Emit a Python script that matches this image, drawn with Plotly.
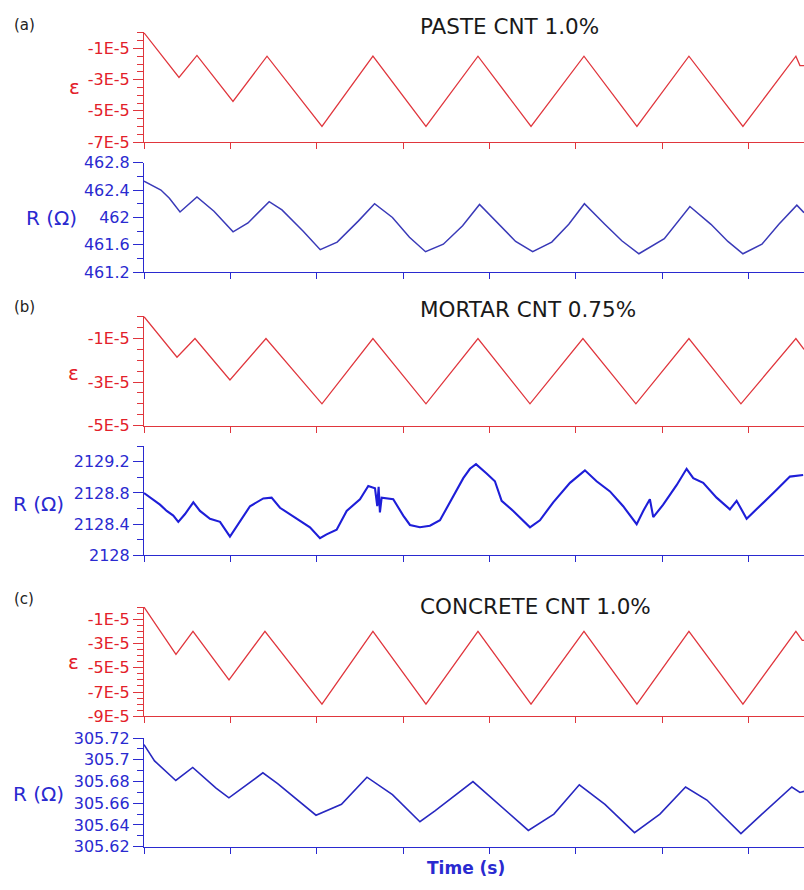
import plotly.graph_objects as go

# ---------------- data (time in s, strain, resistance in ohm) ----------------
t_eps_a = [0, 40.5, 61.3, 103, 142.4, 206, 265, 326.4, 386.6, 448, 509.3, 570.6, 630.8, 693.3, 754.6, 759.3, 764]
eps_a = [0, -2.86e-5, -1.45e-5, -4.4e-5, -1.5e-5, -6.0e-5, -1.5e-5, -6.0e-5, -1.5e-5, -6.0e-5, -1.5e-5,
         -6.0e-5, -1.5e-5, -6.0e-5, -1.5e-5, -2.1e-5, -2.1e-5]

t_r_a = [0, 7.3, 19.6, 29.4, 41.7, 61.3, 81, 103.1, 120.4, 144.9, 159.7, 184.3, 204, 223.6, 248.3, 266.9,
         287.6, 307.3, 325.9, 346.5, 368.8, 388.4, 410.5, 430.2, 449.9, 472, 491.7, 509.8, 533.4, 553.1,
         572.9, 602.3, 631.9, 656.3, 675.9, 693.3, 715.3, 734.9, 755.7, 764]
r_a = [462.53, 462.48, 462.40, 462.28, 462.08, 462.30, 462.09, 461.79, 461.92, 462.23, 462.11, 461.80,
       461.53, 461.64, 461.95, 462.20, 462.00, 461.71, 461.50, 461.61, 461.88, 462.19, 461.90, 461.65,
       461.50, 461.64, 461.90, 462.20, 461.90, 461.66, 461.47, 461.69, 462.16, 461.90, 461.65, 461.47,
       461.61, 461.90, 462.18, 462.07]

t_eps_b = [0, 38.2, 59, 99.5, 141.2, 206, 265, 326.4, 386.6, 446.8, 508.1, 569.4, 630.8, 691, 754.6, 764]
eps_b = [0, -1.86e-5, -1.0e-5, -2.9e-5, -1.0e-5, -4.0e-5, -1.0e-5, -4.0e-5, -1.0e-5, -4.0e-5, -1.0e-5,
         -4.0e-5, -1.0e-5, -4.0e-5, -1.0e-5, -1.5e-5]

t_r_b = [0, 10.4, 18.5, 26.3, 33.9, 39.7, 47.5, 57.1, 64.8, 76.4, 88, 99.5, 105.3, 111.1, 122.7, 138.1,
         147.7, 157.4, 169, 180.6, 192.1, 203.7, 211.4, 223, 234.6, 250, 259.6, 267.4, 270, 271.6, 273.1,
         275.1, 288.5, 300.1, 307.9, 319.4, 331, 342.6, 358, 369.6, 377.3, 384.3, 396.6, 406.2, 414,
         427.4, 446.8, 458.3, 473.7, 493.1, 510.4, 523.9, 539.4, 554.7, 570.3, 577.9, 585.6, 589.5, 601,
         616.5, 628.1, 635.8, 647.3, 662.8, 678.2, 686, 697.6, 713, 732.3, 747.7, 763]
r_b = [2128.80, 2128.72, 2128.65, 2128.57, 2128.51, 2128.43, 2128.53, 2128.68, 2128.57, 2128.47, 2128.43,
       2128.24, 2128.34, 2128.43, 2128.63, 2128.73, 2128.74, 2128.61, 2128.53, 2128.45, 2128.36, 2128.22,
       2128.27, 2128.33, 2128.57, 2128.72, 2128.89, 2128.86, 2128.63, 2128.88, 2128.55, 2128.74, 2128.72,
       2128.51, 2128.39, 2128.36, 2128.38, 2128.45, 2128.76, 2128.99, 2129.11, 2129.17, 2129.05, 2128.95,
       2128.70, 2128.57, 2128.36, 2128.45, 2128.68, 2128.93, 2129.09, 2128.95, 2128.82, 2128.63, 2128.40,
       2128.57, 2128.72, 2128.49, 2128.65, 2128.90, 2129.11, 2128.99, 2128.93, 2128.74, 2128.59, 2128.70,
       2128.47, 2128.63, 2128.84, 2129.01, 2129.03]

t_eps_c = [0, 37, 56.7, 98.4, 140, 206, 265, 326.4, 386.6, 448, 509.3, 570.6, 630.8, 693.3, 754.6, 762, 764]
eps_c = [0, -3.9e-5, -2.0e-5, -6.0e-5, -2.0e-5, -8.0e-5, -2.0e-5, -8.0e-5, -2.0e-5, -8.0e-5, -2.0e-5,
         -8.0e-5, -2.0e-5, -8.0e-5, -2.0e-5, -2.75e-5, -2.75e-5]

t_r_c = [0, 12.2, 36.8, 56.4, 83.4, 98.3, 137.6, 154.7, 199.1, 228.6, 258.1, 287.6, 319.4, 336.8, 380.8,
         410.5, 444.9, 474.5, 503.9, 533.6, 567.8, 597.2, 626.9, 651.6, 691, 715.3, 749.9, 759.3, 764]
r_c = [305.714, 305.699, 305.681, 305.693, 305.674, 305.665, 305.688, 305.678, 305.649, 305.659, 305.684,
       305.668, 305.643, 305.653, 305.680, 305.659, 305.635, 305.650, 305.677, 305.659, 305.633, 305.650,
       305.675, 305.663, 305.632, 305.650, 305.675, 305.670, 305.671]

panel_titles = ["PASTE CNT 1.0%", "MORTAR CNT 0.75%", "CONCRETE CNT 1.0%"]
panel_letters = ["(a)", "(b)", "(c)"]

eps_ticks_a = [-1e-5, -3e-5, -5e-5, -7e-5]
eps_text_a = ["-1E-5", "-3E-5", "-5E-5", "-7E-5"]
eps_ticks_b = [-1e-5, -3e-5, -5e-5]
eps_text_b = ["-1E-5", "-3E-5", "-5E-5"]
eps_ticks_c = [-1e-5, -3e-5, -5e-5, -7e-5, -9e-5]
eps_text_c = ["-1E-5", "-3E-5", "-5E-5", "-7E-5", "-9E-5"]
r_ticks_a = [461.2, 461.6, 462.0, 462.4, 462.8]
r_text_a = ["461.2", "461.6", "462", "462.4", "462.8"]
r_ticks_b = [2128.0, 2128.4, 2128.8, 2129.2]
r_text_b = ["2128", "2128.4", "2128.8", "2129.2"]
r_ticks_c = [305.62, 305.64, 305.66, 305.68, 305.70, 305.72]
r_text_c = ["305.62", "305.64", "305.66", "305.68", "305.7", "305.72"]

# ---------------- styling ----------------
W, H = 804, 890
RED_TXT = "#e3202a"
RED_LINE = "#e0363d"
BLUE_TXT = "#2a2ad0"
FONT = "DejaVu Sans"
X_LEFT = 144


def fy(px):
    return 1 - px / H


# (top px, bottom px) for each subplot
rows = [(24, 136), (157, 269), (314, 425.7), (446.7, 558.3), (610.9, 722.7), (745, 856)]

series = [
    (t_eps_a, eps_a, RED_LINE, 1.3),
    (t_r_a, r_a, "#3a3ab8", 1.5),
    (t_eps_b, eps_b, RED_LINE, 1.3),
    (t_r_b, r_b, "#1e1ed8", 2.1),
    (t_eps_c, eps_c, RED_LINE, 1.3),
    (t_r_c, r_c, "#2828c0", 1.6),
]

yspecs = [
    dict(range=[-7e-5, 0.02e-5], tickvals=eps_ticks_a, ticktext=eps_text_a, mdt=0.5e-5, m0=0, red=True),
    dict(range=[461.2, 462.8], tickvals=r_ticks_a, ticktext=r_text_a, mdt=0.2, m0=461.2, red=False),
    dict(range=[-5e-5, 0.02e-5], tickvals=eps_ticks_b, ticktext=eps_text_b, mdt=0.5e-5, m0=0, red=True),
    dict(range=[2128.0, 2129.4], tickvals=r_ticks_b, ticktext=r_text_b, mdt=0.2, m0=2128.0, red=False),
    dict(range=[-9e-5, 0.02e-5], tickvals=eps_ticks_c, ticktext=eps_text_c, mdt=0.5e-5, m0=0, red=True),
    dict(range=[305.62, 305.72], tickvals=r_ticks_c, ticktext=r_text_c, mdt=0.01, m0=305.62, red=False),
]

fig = go.Figure()
layout = dict(
    width=W, height=H,
    margin=dict(l=0, r=0, t=0, b=0),
    paper_bgcolor="white", plot_bgcolor="white",
    showlegend=False,
    font=dict(family=FONT),
)

for i, ((tx, vy, col, lw), spec, (top, bot)) in enumerate(zip(series, yspecs, rows)):
    k = "" if i == 0 else str(i + 1)
    fig.add_trace(go.Scatter(x=tx, y=vy, mode="lines", line=dict(color=col, width=lw),
                             xaxis="x" + k, yaxis="y" + k, hoverinfo="skip"))
    axcol = RED_LINE if spec["red"] else BLUE_TXT
    txtcol = RED_TXT if spec["red"] else BLUE_TXT
    layout["xaxis" + k] = dict(
        domain=[X_LEFT / W, 1], range=[0, 764], anchor="y" + k,
        showline=True, linecolor=axcol, linewidth=1.2,
        ticks="outside", ticklen=6, tickcolor=axcol, tick0=0, dtick=100,
        showticklabels=False, showgrid=False, zeroline=False,
    )
    layout["yaxis" + k] = dict(
        domain=[fy(bot), fy(top)], range=spec["range"], anchor="x" + k,
        showline=True, linecolor=axcol, linewidth=1.2,
        ticks="outside", ticklen=10, tickcolor=axcol,
        tickmode="array", tickvals=spec["tickvals"], ticktext=spec["ticktext"],
        tickfont=dict(family=FONT, size=16, color=txtcol),
        minor=dict(ticks="outside", ticklen=6, tickcolor=axcol, dtick=spec["mdt"], tick0=spec["m0"],
                   showgrid=False),
        showgrid=False, zeroline=False,
    )

fig.update_layout(**layout)

ann = []
letter_y = [16, 304, 603]
title_y = [18, 307, 611]
for j in range(3):
    ann.append(dict(x=12 / W, y=fy(letter_y[j]), xref="paper", yref="paper", text=panel_letters[j],
                    showarrow=False, xanchor="left", yanchor="middle",
                    font=dict(family=FONT, size=15, color="#222222")))
    ann.append(dict(x=418 / W, y=fy(title_y[j]), xref="paper", yref="paper", text=panel_titles[j],
                    showarrow=False, xanchor="left", yanchor="middle",
                    font=dict(family=FONT, size=21.5, color="#1a1a1a")))

eps_pos = [(74, 80), (73, 372), (73, 667)]
for (xp, yp) in eps_pos:
    ann.append(dict(x=xp / W, y=fy(yp), xref="paper", yref="paper", text="ε", showarrow=False,
                    xanchor="center", yanchor="middle", font=dict(family=FONT, size=20, color=RED_TXT)))

r_pos = [(51, 214), (38, 506), (38, 802)]
for (xp, yp) in r_pos:
    ann.append(dict(x=xp / W, y=fy(yp), xref="paper", yref="paper", text="R (Ω)", showarrow=False,
                    xanchor="center", yanchor="middle", font=dict(family=FONT, size=20, color=BLUE_TXT)))

ann.append(dict(x=466 / W, y=fy(878), xref="paper", yref="paper", text="<b>Time (s)</b>", showarrow=False,
                xanchor="center", yanchor="middle", font=dict(family=FONT, size=17, color=BLUE_TXT)))

fig.update_layout(annotations=ann)
fig.write_html("out.html")
